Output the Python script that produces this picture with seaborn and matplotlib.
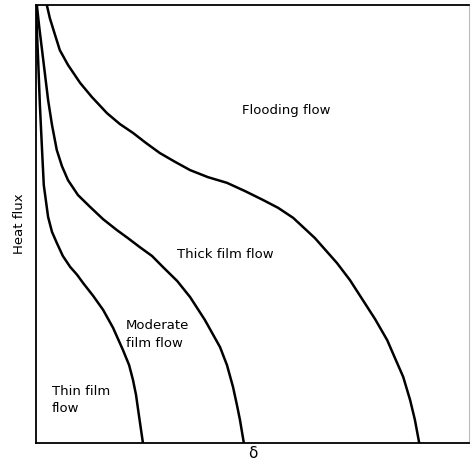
import numpy as np
import pandas as pd
import seaborn as sns
import matplotlib.pyplot as plt

# boundary curves (x = film thickness delta, y = heat flux, both 0..1)
thin_x = [0.000, 0.002, 0.005, 0.009, 0.014, 0.018, 0.028, 0.037, 0.048, 0.062, 0.079, 0.095,
          0.109, 0.132, 0.155, 0.178, 0.201, 0.215, 0.224, 0.231, 0.236, 0.242, 0.247]
thin_y = [1.000, 0.943, 0.874, 0.772, 0.669, 0.589, 0.516, 0.482, 0.457, 0.427, 0.402, 0.384,
          0.365, 0.336, 0.304, 0.263, 0.212, 0.178, 0.144, 0.110, 0.075, 0.034, 0.000]

moderate_x = [0.002, 0.007, 0.014, 0.021, 0.028, 0.037, 0.048, 0.060, 0.074, 0.097, 0.125, 0.155, 0.187,
              0.212, 0.240, 0.268, 0.293, 0.326, 0.356, 0.390, 0.425, 0.441, 0.455, 0.464, 0.471, 0.480]
moderate_y = [1.000, 0.954, 0.897, 0.840, 0.783, 0.726, 0.669, 0.632, 0.600, 0.566, 0.539, 0.511, 0.486,
              0.468, 0.447, 0.427, 0.402, 0.370, 0.333, 0.281, 0.219, 0.178, 0.128, 0.087, 0.053, 0.000]

thick_x = [0.025, 0.032, 0.042, 0.055, 0.074, 0.102, 0.129, 0.164, 0.194, 0.224, 0.254, 0.286, 0.321,
           0.356, 0.397, 0.441, 0.483, 0.524, 0.559, 0.594, 0.644, 0.695, 0.725, 0.755, 0.783, 0.811,
           0.829, 0.848, 0.864, 0.875, 0.885]
thick_y = [1.000, 0.970, 0.938, 0.897, 0.863, 0.822, 0.790, 0.753, 0.728, 0.708, 0.685, 0.662, 0.642,
           0.623, 0.607, 0.594, 0.575, 0.555, 0.537, 0.514, 0.468, 0.411, 0.372, 0.326, 0.283, 0.235,
           0.194, 0.151, 0.098, 0.053, 0.000]

regions = ["Flooding flow", "Thick film flow", "Moderate\nfilm flow", "Thin film\nflow"]
region_x = [0.577, 0.325, 0.208, 0.037]
region_y = [0.760, 0.430, 0.248, 0.098]

frames = []
for name, xs, ys in [("thin", thin_x, thin_y), ("moderate", moderate_x, moderate_y), ("thick", thick_x, thick_y)]:
    frames.append(pd.DataFrame({"delta": xs, "q": ys, "curve": name}))
df = pd.concat(frames, ignore_index=True)

sns.set_style("white")
plt.rcParams['font.family'] = ['DejaVu Sans']
plt.rcParams['text.color'] = 'black'
plt.rcParams['axes.labelcolor'] = 'black'

fig = plt.figure(figsize=(4.71, 4.71), dpi=100)
ax = fig.add_axes([0.0764, 0.0594, 0.9194, 0.93])

sns.lineplot(data=df, x="delta", y="q", units="curve", estimator=None, sort=False,
             color="black", linewidth=1.8, legend=False, ax=ax)

ha = ["center", "left", "left", "left"]
for txt, x, y, h in zip(regions, region_x, region_y, ha):
    ax.text(x, y, txt, ha=h, va="center", fontsize=9.5, linespacing=1.45, color="black")

ax.set_xlim(0, 1)
ax.set_ylim(0, 1)
ax.set_xticks([])
ax.set_yticks([])
ax.set_xlabel("δ", fontsize=11, labelpad=2)
ax.set_ylabel("Heat flux", fontsize=9.5, labelpad=7)
for s in ["left", "bottom", "top"]:
    ax.spines[s].set_color("black")
    ax.spines[s].set_linewidth(1.3)
ax.spines["right"].set_color("#bbbbbb")
ax.spines["right"].set_linewidth(0.8)

plt.savefig("out.png", dpi=100)
